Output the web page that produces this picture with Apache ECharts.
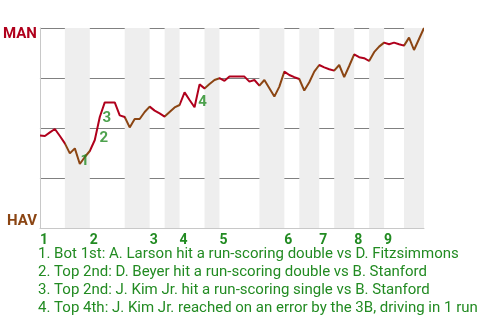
<!DOCTYPE html>
<html>
<head>
<meta charset="utf-8">
<script src="https://cdn.jsdelivr.net/npm/echarts@6/dist/echarts.min.js"></script>
<style>html,body{margin:0;padding:0;background:#fff}#c{width:480px;height:320px}</style>
</head>
<body>
<div id="c"></div>
<script>
// Win probability for MAN (0 = HAV wins, 100 = MAN wins), one value per plate appearance
const winProb = [
  46.2, 46.0, 47.8, 49.5, 46.0, 42.3, 37.3, 39.8, 32.0, 35.5,
  38.5, 44.0, 55.5, 62.8, 62.8, 62.8, 56.3, 55.5, 50.3, 54.5,
  54.5, 58.0, 60.7, 58.7, 57.3, 55.7, 58.0, 60.3, 61.5, 67.8,
  64.0, 60.4, 71.8, 69.8, 72.0, 74.0, 74.9, 73.6, 75.7, 75.7,
  75.7, 75.7, 73.2, 74.0, 71.2, 74.0, 69.9, 65.7, 70.7, 78.2,
  76.5, 75.4, 74.5, 68.7, 72.9, 78.2, 81.5, 80.3, 79.4, 78.7,
  81.5, 75.4, 81.0, 86.8, 85.4, 84.9, 83.5, 87.9, 90.7, 92.7,
  91.9, 92.7, 91.9, 91.2, 95.2, 89.0, 94.5, 100.0
];
// plate-appearance index where each half inning starts (last = end of game)
const halfInningStarts = [0, 5, 10, 17, 22, 25, 28, 33, 36, 44, 49, 52, 56, 59, 63, 66, 69, 73, 77];
const inningLabels = ['1', '2', '3', '4', '5', '6', '7', '8', '9'];
const yTickValues = [0, 25, 50, 75, 100];
const teamTop = 'MAN';
const teamBottom = 'HAV';
const eventIndex = [8, 12, 13, 32];
const eventMarks = ['1', '2', '3', '4'];
const eventNotes = [
  '1. Bot 1st: A. Larson hit a run-scoring double vs D. Fitzsimmons',
  '2. Top 2nd: D. Beyer hit a run-scoring double vs B. Stanford',
  '3. Top 2nd: J. Kim Jr. hit a run-scoring single vs B. Stanford',
  '4. Top 4th: J. Kim Jr. reached on an error by the 3B, driving in 1 run'
];

const RED = '#b0001c', BROWN = '#8b4513', GREEN = '#228b22', FONT = 'Roboto';
const labelOffsets = [[5, -3], [4, 21], [2, 16], [3, 18]];

const lastIdx = winProb.length - 1;
const inningStartIdx = halfInningStarts.filter((v, k) => k % 2 === 0 && k < halfInningStarts.length - 1);

const pieces = [];
const bands = [];
for (let k = 0; k < halfInningStarts.length - 1; k++) {
  const a = halfInningStarts[k], b = halfInningStarts[k + 1];
  const p = { gte: a, color: k % 2 === 0 ? RED : BROWN };
  if (k < halfInningStarts.length - 2) p.lt = b; else p.lte = b;
  pieces.push(p);
  if (k % 2 === 1) bands.push([{ xAxis: a }, { xAxis: b }]);
}

const chart = echarts.init(document.getElementById('c'), null, { renderer: 'canvas' });
chart.setOption({
  animation: false,
  backgroundColor: '#fff',
  textStyle: { fontFamily: FONT },
  grid: { left: 38, right: 56, top: 28, bottom: 92 },
  title: {
    left: 38, top: 245, padding: 0,
    text: eventNotes.join('\n'),
    textStyle: { fontFamily: FONT, fontSize: 15, fontWeight: 'normal', color: GREEN, lineHeight: 18 }
  },
  xAxis: {
    type: 'value', min: 0, max: lastIdx, z: 1,
    axisLine: { show: true, onZero: false, lineStyle: { color: '#c8c8c8', width: 1 } },
    axisTick: { show: false },
    splitLine: { show: false },
    axisLabel: {
      customValues: inningStartIdx,
      formatter: v => inningLabels[inningStartIdx.indexOf(v)] || '',
      align: 'left', margin: 5,
      color: GREEN, fontWeight: 'bold', fontSize: 14, fontFamily: FONT
    }
  },
  yAxis: {
    type: 'value', min: 0, max: 100, interval: 25, z: 1,
    axisLine: { show: true, lineStyle: { color: '#c8c8c8', width: 1 } },
    axisTick: { show: false },
    splitLine: { show: true, showMinLine: false, lineStyle: { color: '#808080', width: 1 } },
    axisLabel: {
      customValues: [yTickValues[0], yTickValues[yTickValues.length - 1]],
      margin: 3,
      formatter: v => v === 100 ? '{t|' + teamTop + '}' : (v === 0 ? '{b|' + teamBottom + '}' : ''),
      rich: {
        t: { color: RED, fontWeight: 'bold', fontSize: 15, fontFamily: FONT, padding: [13, 0, 0, 0] },
        b: { color: BROWN, fontWeight: 'bold', fontSize: 15, fontFamily: FONT, padding: [0, 0, 14, 0] }
      }
    }
  },
  visualMap: {
    show: false, type: 'piecewise', dimension: 0, seriesIndex: 0, pieces: pieces
  },
  series: [
    {
      type: 'line', z: 3,
      data: winProb.map((v, i) => [i, v]),
      showSymbol: false, symbol: 'none',
      lineStyle: { width: 2 }
    },
    {
      type: 'scatter', z: 4,
      symbolSize: 0,
      data: eventIndex.map((idx, k) => ({
        value: [idx, winProb[idx]],
        label: { offset: labelOffsets[k] }
      })),
      label: {
        show: true, position: 'inside',
        formatter: p => eventMarks[p.dataIndex],
        color: GREEN, fontWeight: 'bold', fontSize: 15, fontFamily: FONT,
        align: 'center', verticalAlign: 'middle'
      },
      silent: true
    },
    {
      type: 'line', z: 0, data: [], silent: true,
      markArea: { silent: true, itemStyle: { color: '#eeeeee', opacity: 1 }, data: bands }
    }
  ]
});
</script>
</body>
</html>
